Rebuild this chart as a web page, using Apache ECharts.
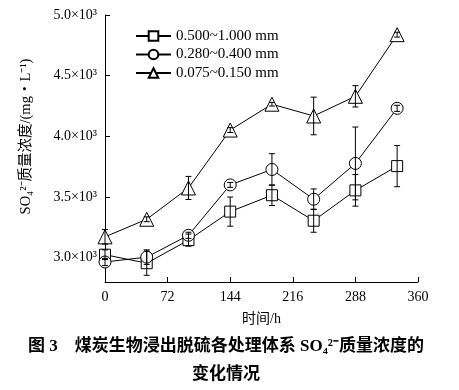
<!DOCTYPE html>
<html><head><meta charset="utf-8">
<script src="https://cdn.jsdelivr.net/npm/echarts@6/dist/echarts.min.js"></script>
<style>html,body{margin:0;padding:0;background:#fff}#c{width:459px;height:390px}</style>
</head><body><div id="c"></div>
<script>
const hours = [0, 48, 96, 144, 192, 240, 288, 336];
const seriesNames = ['0.500~1.000 mm', '0.280~0.400 mm', '0.075~0.150 mm'];
const coarseMean = [3025, 2955, 3145, 3380, 3515, 3305, 3555, 3755];
const coarseErr  = [40, 100, 50, 120, 85, 95, 130, 170];
const mediumMean = [2965, 3005, 3185, 3600, 3727, 3482, 3777, 4231];
const mediumErr  = [30, 60, 25, 20, 130, 85, 300, 25];
const fineMean   = [3172, 3317, 3575, 4052, 4265, 4168, 4330, 4838];
const fineErr    = [60, 20, 95, 20, 15, 155, 88, 20];
const yTicks = [3000, 3500, 4000, 4500, 5000];
const xTicks = [0, 72, 144, 216, 288, 360];

const serif = '"Liberation Serif","Noto Sans CJK SC",serif';
const chart = echarts.init(document.getElementById('c'));

function lineSeries(name, mean, symbol, size) {
  return {
    name: name, type: 'line', data: hours.map((h, i) => [h, mean[i]]),
    symbol: symbol, symbolSize: size,
    lineStyle: {color: '#000', width: 1},
    itemStyle: {color: '#fff', borderColor: '#000', borderWidth: 1},
    z: 2, animation: false
  };
}
function errSeries(mean, err) {
  return {
    type: 'custom', z: 5, animation: false, silent: true,
    data: hours.map((h, i) => [h, mean[i] - err[i], mean[i] + err[i]]),
    renderItem: function (params, api) {
      const lo = api.coord([api.value(0), api.value(1)]);
      const hi = api.coord([api.value(0), api.value(2)]);
      const w = 3;
      const st = {stroke: '#000', lineWidth: 1};
      return {type: 'group', children: [
        {type: 'line', shape: {x1: lo[0], y1: lo[1], x2: hi[0], y2: hi[1]}, style: st},
        {type: 'line', shape: {x1: lo[0] - w, y1: lo[1], x2: lo[0] + w, y2: lo[1]}, style: st},
        {type: 'line', shape: {x1: hi[0] - w, y1: hi[1], x2: hi[0] + w, y2: hi[1]}, style: st}
      ]};
    }
  };
}

chart.setOption({
  backgroundColor: '#fff',
  animation: false,
  grid: {left: 105, right: 41, top: 15, bottom: 108},
  title: {
    text: '图 3    煤炭生物浸出脱硫各处理体系 SO₄²⁻质量浓度的\n变化情况',
    left: 226, top: 333, textAlign: 'center', padding: 0,
    textStyle: {fontFamily: serif, fontSize: 17, fontWeight: 'bold', color: '#000', lineHeight: 28}
  },
  legend: {
    data: seriesNames, orient: 'vertical', left: 135, top: 28, padding: 0,
    itemWidth: 35, itemHeight: 12, itemGap: 2.5,
    textStyle: {fontFamily: serif, fontSize: 15, lineHeight: 16, color: '#000'}
  },
  xAxis: {
    type: 'value', min: 0, max: 360, interval: 72,
    name: '时间/h', nameLocation: 'middle', nameGap: 30,
    nameTextStyle: {fontFamily: serif, fontSize: 14, color: '#000'},
    axisLine: {lineStyle: {color: '#000', width: 1}},
    axisTick: {inside: true, length: 5, lineStyle: {color: '#000'}},
    axisLabel: {fontFamily: serif, fontSize: 14, color: '#000', margin: 8, customValues: xTicks},
    splitLine: {show: false}
  },
  yAxis: {
    type: 'value', min: 2800, max: 5000,
    name: 'SO₄²⁻质量浓度/(mg・L⁻¹)', nameLocation: 'middle', nameGap: 72,
    nameTextStyle: {fontFamily: serif, fontSize: 14.5, color: '#000', padding: [0, 0, 0, 24]},
    axisLine: {show: true, lineStyle: {color: '#000', width: 1}},
    axisTick: {show: true, inside: true, length: 5, lineStyle: {color: '#000'}, customValues: yTicks},
    axisLabel: {fontFamily: serif, fontSize: 14, color: '#000', margin: 8, customValues: yTicks,
      formatter: v => (v / 1000).toFixed(1) + '×10³'},
    splitLine: {show: false}
  },
  series: [
    lineSeries(seriesNames[0], coarseMean, 'rect', 11),
    lineSeries(seriesNames[1], mediumMean, 'circle', 12),
    lineSeries(seriesNames[2], fineMean, 'triangle', 14),
    errSeries(coarseMean, coarseErr),
    errSeries(mediumMean, mediumErr),
    errSeries(fineMean, fineErr)
  ]
});
</script></body></html>
